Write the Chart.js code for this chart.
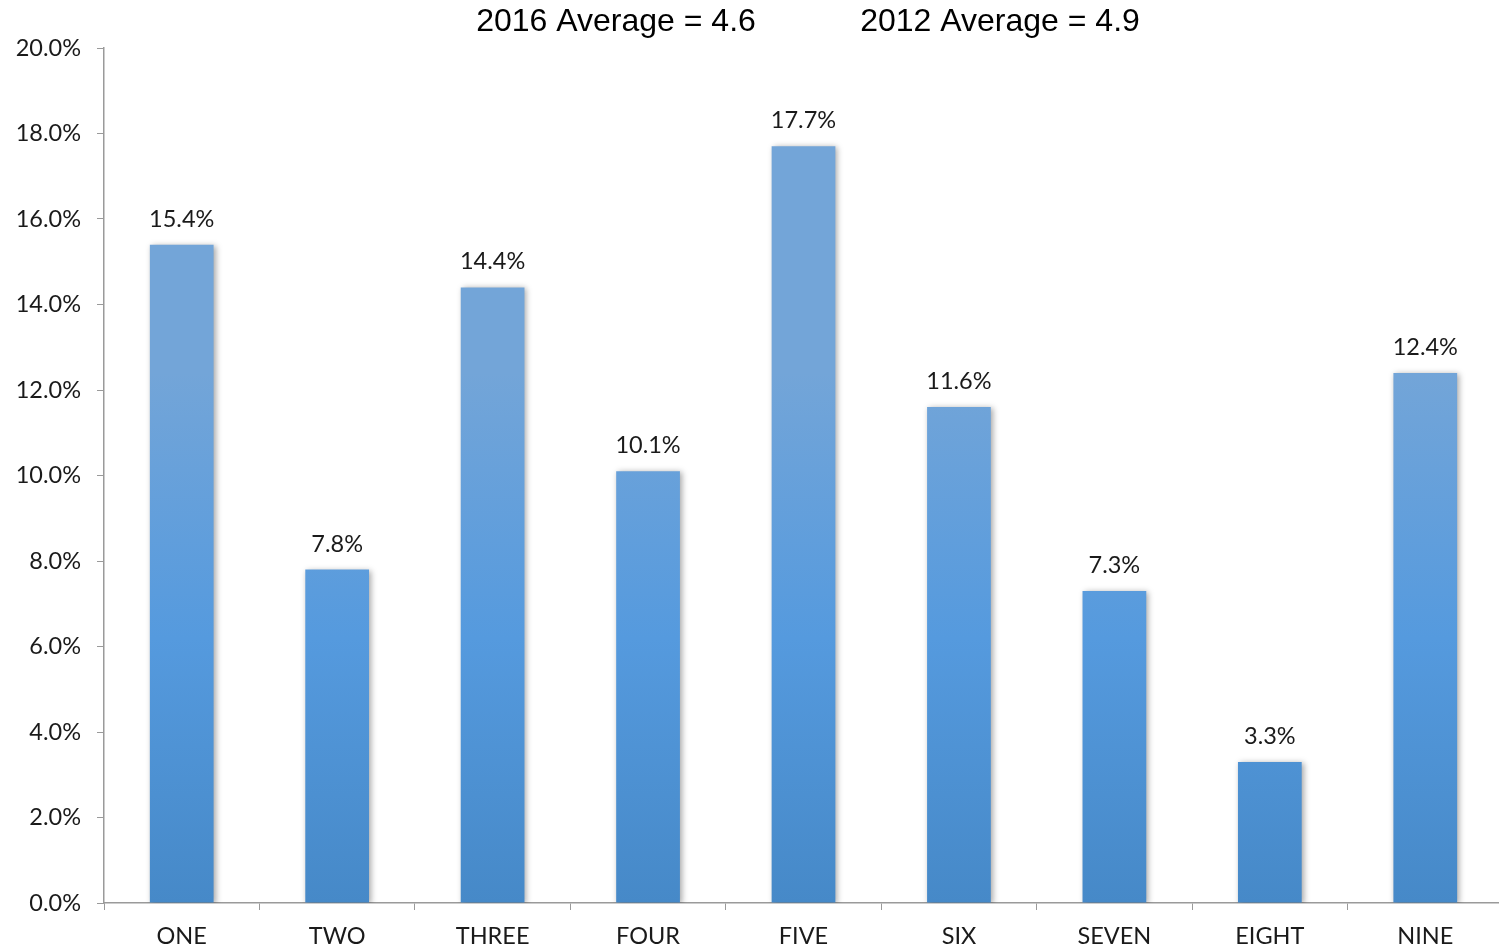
<!DOCTYPE html>
<html lang="en">
<head>
    <meta charset="UTF-8">
    <title>Distribution</title>
    <script src="https://cdn.jsdelivr.net/npm/chart.js"></script>
    <style>
        html, body { margin: 0; padding: 0; background: #fff; overflow: hidden; }
        #wrap { width: 1503px; height: 948px; }
    </style>
</head>
<body>
    <div id="wrap"><canvas id="outputChart"></canvas></div>

    <script>
    const categories = ['ONE', 'TWO', 'THREE', 'FOUR', 'FIVE', 'SIX', 'SEVEN', 'EIGHT', 'NINE'];
    const shares = [15.4, 7.8, 14.4, 10.1, 17.7, 11.6, 7.3, 3.3, 12.4];
    const headings = ['2016 Average = 4.6', '2012 Average = 4.9'];

    const labelFont = '23.5px Lato, "Open Sans", sans-serif';

    // give every bar its own vertical gradient and a soft drop shadow
    const barStyle = {
        id: 'barStyle',
        beforeDatasetDraw(chart) {
            const ctx = chart.ctx;
            chart.getDatasetMeta(0).data.forEach(bar => {
                if (!isFinite(bar.y) || !isFinite(bar.base)) return;
                const g = ctx.createLinearGradient(0, bar.y, 0, bar.base);
                g.addColorStop(0, '#73a5d8');
                g.addColorStop(0.5, '#559ade');
                g.addColorStop(1, '#4689c8');
                bar.options.backgroundColor = g;
            });
            ctx.save();
            ctx.shadowColor = 'rgba(0,0,0,0.35)';
            ctx.shadowBlur = 6;
            ctx.shadowOffsetX = 2;
            ctx.shadowOffsetY = 1;
        },
        afterDatasetDraw(chart) {
            chart.ctx.restore();
        }
    };

    const valueLabels = {
        id: 'valueLabels',
        afterDatasetsDraw(chart) {
            const ctx = chart.ctx;
            const meta = chart.getDatasetMeta(0);
            ctx.save();
            ctx.font = labelFont;
            ctx.fillStyle = '#1a1a1a';
            ctx.textAlign = 'center';
            ctx.textBaseline = 'alphabetic';
            meta.data.forEach((bar, i) => {
                ctx.fillText(shares[i].toFixed(1) + '%', bar.x, bar.y - 18);
            });
            ctx.restore();
        }
    };

    const headerText = {
        id: 'headerText',
        afterDraw(chart) {
            const ctx = chart.ctx;
            ctx.save();
            ctx.font = '32px "Liberation Sans", Arial, sans-serif';
            ctx.fillStyle = '#000';
            ctx.textAlign = 'center';
            ctx.textBaseline = 'middle';
            ctx.fillText(headings[0], 616, 22);
            ctx.fillText(headings[1], 1000, 22);
            ctx.restore();
        }
    };

    new Chart(document.getElementById('outputChart'), {
        type: 'bar',
        data: {
            labels: categories,
            datasets: [{
                data: shares,
                backgroundColor: '#559ade',
                borderWidth: 0,
                barPercentage: 0.41,
                categoryPercentage: 1
            }]
        },
        options: {
            responsive: true,
            maintainAspectRatio: false,
            animation: false,
            layout: { padding: { top: 48, right: 0, left: 0, bottom: 0 } },
            plugins: {
                legend: { display: false },
                tooltip: { enabled: false }
            },
            scales: {
                x: {
                    grid: {
                        drawOnChartArea: false,
                        offset: true,
                        tickLength: 7,
                        color: '#9a9a9a'
                    },
                    border: { color: '#9a9a9a', width: 1.5 },
                    ticks: {
                        color: '#1a1a1a',
                        font: { family: 'Lato, "Open Sans", sans-serif', size: 23.5 },
                        padding: 12,
                        maxRotation: 0
                    },
                    afterFit(scale) { scale.height = 45; }
                },
                y: {
                    min: 0,
                    max: 20,
                    grid: {
                        drawOnChartArea: false,
                        tickLength: 7,
                        color: '#9a9a9a'
                    },
                    border: { color: '#9a9a9a', width: 1.5 },
                    ticks: {
                        stepSize: 2,
                        color: '#1a1a1a',
                        font: { family: 'Lato, "Open Sans", sans-serif', size: 23.5 },
                        padding: 16,
                        callback: v => v.toFixed(1) + '%'
                    },
                    afterFit(scale) { scale.width = 104; }
                }
            }
        },
        plugins: [barStyle, valueLabels, headerText]
    });
    </script>
</body>
</html>
